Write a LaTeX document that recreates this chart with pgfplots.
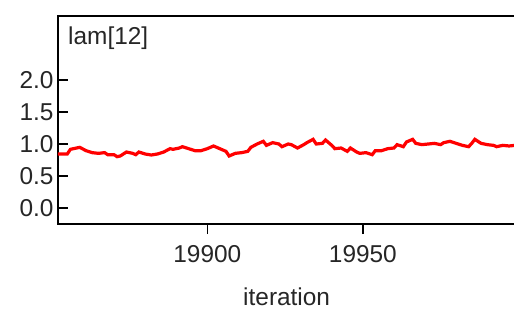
\documentclass[border=0pt]{standalone}
\usepackage{pgfplots}
\pgfplotsset{compat=1.18}
\usepackage{fontspec}
\setmainfont{Liberation Sans}
\begin{document}
\begin{tikzpicture}
\begin{axis}[
  scale only axis,
  width=457.3bp, height=208bp,
  xmin=19852, xmax=19999,
  ymin=-0.25, ymax=3.0,
  axis line style={line width=2.8bp, black},
  xtick={19900,19950},
  ytick={0,0.5,1,1.5,2},
  scaled ticks=false,
  /pgf/number format/assume math mode=true,
  xticklabel style={/pgf/number format/fixed, /pgf/number format/1000 sep={}, yshift=-8bp},
  yticklabel style={/pgf/number format/fixed, /pgf/number format/zerofill, /pgf/number format/precision=1, xshift=-1bp},
  xtick align=outside, ytick align=inside,
  major tick length=10bp,
  tick style={line width=1.5bp, black},
  xtick pos=bottom, ytick pos=left,
  tick label style={font=\fontsize{24.5}{28}\selectfont, text=black!85},
  xlabel={iteration},
  xlabel style={font=\fontsize{24.5}{28}\selectfont, text=black!85, yshift=-18bp},
  clip=true,
]
\addplot[red, line width=3.2bp] coordinates {
(19852,0.844) (19855,0.844) (19856,0.917) (19859,0.948) (19861,0.896)
(19863,0.865) (19865,0.854) (19867,0.865) (19868,0.833) (19870,0.833)
(19871,0.802) (19872,0.8125) (19874,0.875) (19876,0.854) (19877,0.833)
(19878,0.875) (19880,0.844) (19882,0.828) (19884,0.844) (19886,0.875)
(19888,0.927) (19889,0.917) (19891,0.9375) (19892,0.958) (19894,0.927)
(19896,0.896) (19898,0.896) (19900,0.927) (19902,0.969) (19904,0.927)
(19906,0.885) (19907,0.8125) (19909,0.854) (19911,0.865) (19913,0.885)
(19914,0.948) (19916,1.0) (19918,1.042) (19919,0.979) (19921,1.021)
(19923,1.0) (19924,0.958) (19926,1.0) (19927,0.990) (19929,0.9375)
(19931,0.990) (19932,1.021) (19934,1.073) (19935,1.0) (19937,1.010)
(19938,1.0625) (19940,0.979) (19941,0.927) (19943,0.9375) (19945,0.885)
(19946,0.9375) (19948,0.875) (19949,0.854) (19951,0.865) (19953,0.833)
(19954,0.896) (19956,0.896) (19958,0.927) (19960,0.9375) (19961,0.990)
(19963,0.958) (19964,1.031) (19966,1.073) (19967,1.010) (19969,0.990)
(19971,1.0) (19973,1.010) (19975,0.990) (19976,1.021) (19978,1.042)
(19980,1.010) (19982,0.979) (19984,0.958) (19985,1.010) (19986,1.073)
(19988,1.010) (19990,0.990) (19992,0.979) (19993,0.958) (19995,0.979)
(19997,0.969) (19999,0.979)
};
\node[anchor=north west, inner sep=0pt, font=\fontsize{24.5}{28}\selectfont, text=black!85]
  at ([xshift=10bp,yshift=-11bp]rel axis cs:0,1) {lam[12]};
\coordinate (bl) at (rel axis cs:0,0);
\coordinate (tr) at (rel axis cs:1,1);
\end{axis}
\pgfresetboundingbox
\path[use as bounding box] ([xshift=-58bp,yshift=-89bp]bl) rectangle ([xshift=-1.3bp,yshift=16bp]tr);
\end{tikzpicture}
\end{document}
